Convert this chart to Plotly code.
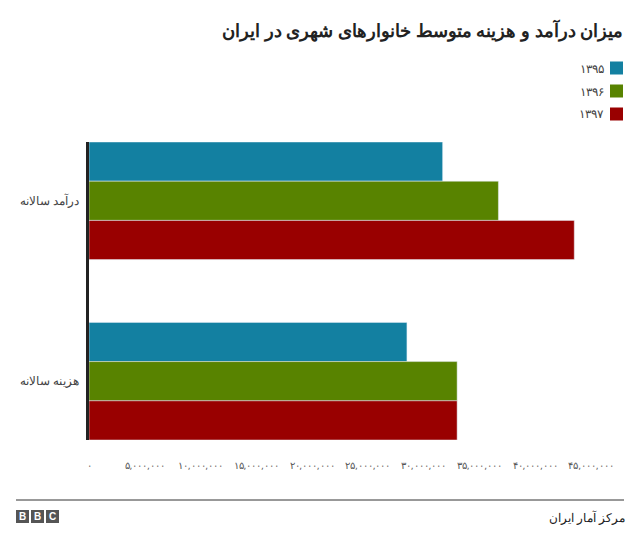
import plotly.graph_objects as go

categories = ['درآمد سالانه', 'هزینه سالانه']
years = ['۱۳۹۵', '۱۳۹۶', '۱۳۹۷']
values = {
    '۱۳۹۵': [31.7e6, 28.5e6],
    '۱۳۹۶': [36.7e6, 33.0e6],
    '۱۳۹۷': [43.5e6, 33.0e6],
}
colors = ['#1380A1', '#588300', '#990000']
tick_vals = [i * 5e6 for i in range(10)]
tick_text = ['۰', '۵,۰۰۰,۰۰۰', '۱۰,۰۰۰,۰۰۰', '۱۵,۰۰۰,۰۰۰', '۲۰,۰۰۰,۰۰۰', '۲۵,۰۰۰,۰۰۰',
             '۳۰,۰۰۰,۰۰۰', '۳۵,۰۰۰,۰۰۰', '۴۰,۰۰۰,۰۰۰', '۴۵,۰۰۰,۰۰۰']

W, H = 640, 545
OFF = 8  # page offset of the figure in the screenshot
L, R, T, B = 89 - OFF, 20 + OFF, 142 - OFF, 105 + OFF
PW, PH = W - L - R, H - T - B


def px(x):
    # screenshot pixel -> paper x
    return (x - OFF - L) / PW


def py(y):
    return (H - (y - OFF) - B) / PH


fig = go.Figure()
for y, c in zip(years, colors):
    fig.add_trace(go.Bar(y=categories, x=values[y], name=y, orientation='h',
                         marker_color=c, showlegend=False))

fig.update_layout(
    width=W, height=H, barmode='group', bargap=0.348, bargroupgap=0,
    margin=dict(l=L, r=R, t=T, b=B),
    plot_bgcolor='white', paper_bgcolor='white',
    font=dict(family='Noto Sans', color='#222222'),
    xaxis=dict(range=[0, 47.6e6], tickvals=tick_vals, ticktext=tick_text, tickangle=0,
               showgrid=False, zeroline=False, tickfont=dict(size=9.5, color='#555555'),
               ticks='', ticklabelstandoff=18, automargin=False),
    yaxis=dict(range=[1.326, -0.326], showline=True, linecolor='#222222', linewidth=3,
               ticks='', tickfont=dict(size=11.5, color='#444444'), ticklabelstandoff=5,
               automargin=False),
)

fig.add_annotation(text='<b>میزان درآمد و هزینه متوسط خانوارهای شهری در ایران</b>',
                   xref='paper', yref='paper', x=px(625), y=py(30),
                   xanchor='right', yanchor='middle', showarrow=False,
                   font=dict(size=18, color='#222222'))

for i, (y, c) in enumerate(zip(years, colors)):
    cy = 68 + i * 23
    fig.add_shape(type='rect', xref='paper', yref='paper',
                  x0=px(610), x1=px(623), y0=py(cy + 6.5), y1=py(cy - 6.5),
                  fillcolor=c, line_width=0)
    fig.add_annotation(text=y, xref='paper', yref='paper',
                       x=px(606), y=py(cy),
                       xanchor='right', yanchor='middle', showarrow=False,
                       font=dict(size=12, color='#444444'))

fig.add_shape(type='line', xref='paper', yref='paper',
              x0=px(16), x1=px(624), y0=py(500), y1=py(500),
              line=dict(color='#333333', width=1))
fig.add_annotation(text='مرکز آمار ایران', xref='paper', yref='paper',
                   x=px(627), y=py(517),
                   xanchor='right', yanchor='middle', showarrow=False,
                   font=dict(size=12, color='#222222'))
for j, ch in enumerate('BBC'):
    x0 = 16 + j * 15
    fig.add_shape(type='rect', xref='paper', yref='paper',
                  x0=px(x0), x1=px(x0 + 13), y0=py(523), y1=py(510),
                  fillcolor='#555555', line_width=0)
    fig.add_annotation(text='<b>' + ch + '</b>', xref='paper', yref='paper',
                       x=px(x0 + 6.5), y=py(516.5),
                       xanchor='center', yanchor='middle', showarrow=False,
                       font=dict(size=10, color='white', family='Liberation Sans'))

fig.write_html('out.html')
